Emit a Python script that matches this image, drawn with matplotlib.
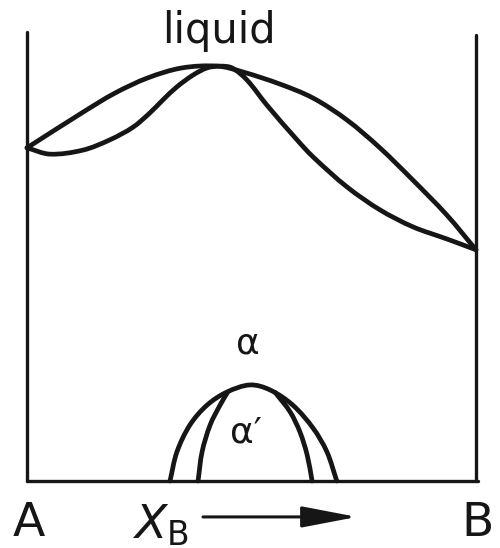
import numpy as np
import matplotlib
matplotlib.use("Agg")
import matplotlib.pyplot as plt
from matplotlib.path import Path
from matplotlib.patches import PathPatch

plt.rcParams["font.family"] = ["DejaVu Sans"]
plt.rcParams["mathtext.fontset"] = "dejavusans"

# Composition (mole fraction of B) and temperature (arbitrary units, 0-100)
liquidus_x = [0.0, 0.1225, 0.196, 0.2695, 0.345, 0.425, 0.481, 0.5635, 0.637,
              0.7127, 0.786, 0.8597, 0.9354, 1.0]
liquidus_T = [74.2, 82.0, 86.4, 89.8, 92.0, 92.4, 91.1, 88.4, 85.3,
              80.4, 74.2, 67.0, 59.2, 51.5]

solidus_x = [0.0, 0.0512, 0.1247, 0.1849, 0.2361, 0.2739, 0.3029, 0.3341, 0.3697,
             0.4009, 0.4298, 0.4566, 0.490, 0.5345, 0.6013, 0.637,
             0.7127, 0.786, 0.8597, 0.9354, 1.0]
solidus_T = [74.2, 72.8, 73.7, 76.0, 78.8, 82.0, 84.9, 87.8, 90.4,
             92.0, 92.4, 92.0, 89.3, 83.7, 76.0, 72.2,
             65.5, 60.4, 56.6, 53.9, 51.5]

# Ordering dome (alpha / alpha') near the bottom of the diagram
dome_outer_x = [0.3185, 0.334, 0.363, 0.401, 0.445, 0.497, 0.541, 0.592, 0.637, 0.668, 0.690]
dome_outer_T = [0.0, 6.5, 12.5, 16.9, 19.8, 21.4, 20.3, 16.9, 11.8, 6.5, 0.0]

dome_inner_left_x = [0.381, 0.390, 0.408, 0.430, 0.447]
dome_inner_left_T = [0.0, 6.5, 12.5, 16.9, 19.8]

dome_inner_right_x = [0.635, 0.624, 0.608, 0.586, 0.553]
dome_inner_right_T = [0.0, 5.8, 10.9, 15.4, 19.7]

T_top_left, T_top_right = 100.0, 99.3

INK = "#161616"
T_SCALE = 0.01  # one temperature unit drawn as tall as 0.01 composition units


def smooth_path(xs, ys):
    """Bezier path through the points, tangents from chord-length Catmull-Rom."""
    p = np.column_stack([xs, np.asarray(ys) * T_SCALE]).astype(float)
    n = len(p)
    seg = np.linalg.norm(np.diff(p, axis=0), axis=1)
    tang = np.zeros_like(p)
    tang[0] = (p[1] - p[0]) / seg[0]
    tang[-1] = (p[-1] - p[-2]) / seg[-1]
    for i in range(1, n - 1):
        tang[i] = (p[i + 1] - p[i - 1]) / (seg[i - 1] + seg[i])
    verts = [p[0]]
    codes = [Path.MOVETO]
    for i in range(n - 1):
        h = seg[i] / 3.0
        verts += [p[i] + tang[i] * h, p[i + 1] - tang[i + 1] * h, p[i + 1]]
        codes += [Path.CURVE4] * 3
    verts = np.array(verts)
    verts[:, 1] /= T_SCALE
    return Path(verts, codes)


fig = plt.figure(figsize=(5.0, 5.48), dpi=100)
ax = fig.add_axes([0, 0, 1, 1])
ax.set_xlim(-0.0601, 1.0535)
ax.set_ylim(-14.92, 107.13)
ax.axis("off")

# Frame: pure A, pure B and the base line
ax.plot([0, 0], [0, T_top_left], color=INK, lw=2.4, solid_capstyle="round")
ax.plot([1, 1], [0, T_top_right], color=INK, lw=2.4, solid_capstyle="round")
ax.plot([0, 1.004], [0, 0], color=INK, lw=2.4, solid_capstyle="round")

curves = [
    (liquidus_x, liquidus_T),
    (solidus_x, solidus_T),
    (dome_outer_x, dome_outer_T),
    (dome_inner_left_x, dome_inner_left_T),
    (dome_inner_right_x, dome_inner_right_T),
]
for xs, ts in curves:
    ax.add_patch(PathPatch(smooth_path(xs, ts), facecolor="none", edgecolor=INK,
                           lw=3.4, capstyle="round", joinstyle="round"))

# Phase labels
ax.text(0.4276, 97.6, "liquid", ha="center", va="baseline", fontsize=30, color=INK)
ax.text(0.492, 28.5, "α", ha="center", va="baseline", fontsize=26, color=INK)
ax.text(0.488, 8.5, "α′", ha="center", va="baseline", fontsize=26, color=INK)

# Composition axis labels
ax.text(0.0045, -12.2, "A", ha="center", va="baseline", fontsize=34, color=INK)
ax.text(1.0045, -12.2, "B", ha="center", va="baseline", fontsize=34, color=INK)
ax.text(0.234, -12.8, r"$X_\mathrm{B}$", ha="left", va="baseline", fontsize=34, color=INK)
ax.annotate("", xy=(0.735, -8.0), xytext=(0.392, -8.0),
            arrowprops=dict(arrowstyle="-|>,head_length=3.4,head_width=0.65",
                            mutation_scale=10, lw=2.2, color=INK,
                            shrinkA=0, shrinkB=0))

fig.savefig("out.png", dpi=100, facecolor="white")
